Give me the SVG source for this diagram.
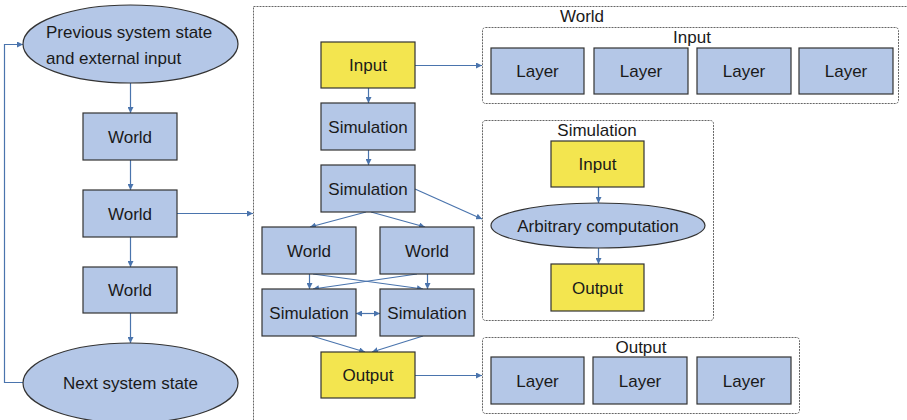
<svg xmlns="http://www.w3.org/2000/svg" width="907" height="420" viewBox="0 0 907 420">
<defs>
<style>
.box{fill:#b4c7e7;stroke:#333;stroke-width:1.2}
.yel{fill:#f3e54f;stroke:#333;stroke-width:1.2}
.frame{fill:none;stroke:#666;stroke-width:1;stroke-dasharray:2 1}
.t{font-family:"Liberation Sans",Arial,sans-serif;font-size:17px;fill:#1a1a1a;text-anchor:middle}
.tl{font-family:"Liberation Sans",Arial,sans-serif;font-size:17px;fill:#1a1a1a}
.c{fill:none;stroke:#4a74ad;stroke-width:1.2}
</style>
<marker id="ah" viewBox="0 0 10 10" refX="10" refY="5" markerWidth="6" markerHeight="6" markerUnits="userSpaceOnUse" orient="auto-start-reverse">
<path d="M0,0 L10,5 L0,10 z" fill="#4a74ad"/>
</marker>
</defs>
<rect width="907" height="420" fill="#fff"/>

<g id="frames">
<g id="world-frame"><rect class="frame" x="253.5" y="6.5" width="660" height="420"/><text class="t" x="582" y="22">World</text></g>
<g id="input-frame"><rect class="frame" x="482.5" y="27.5" width="416" height="76" rx="3"/><text class="t" x="692" y="43">Input</text></g>
<g id="simulation-frame"><rect class="frame" x="482.5" y="120.5" width="231" height="200" rx="3"/><text class="t" x="597" y="136">Simulation</text></g>
<g id="output-frame"><rect class="frame" x="482.5" y="337.5" width="317" height="76" rx="3"/><text class="t" x="641" y="353">Output</text></g>
</g>

<g id="connectors">
<path class="c" d="M130.5,83 V113" marker-end="url(#ah)"/>
<path class="c" d="M130.5,160 V190" marker-end="url(#ah)"/>
<path class="c" d="M130.5,237 V267" marker-end="url(#ah)"/>
<path class="c" d="M130.5,313 V343" marker-end="url(#ah)"/>
<path class="c" d="M23,382.5 H4.5 V44.5 H23" marker-end="url(#ah)"/>
<path class="c" d="M177,213.5 H253" marker-end="url(#ah)"/>
<path class="c" d="M368.5,88 V103" marker-end="url(#ah)"/>
<path class="c" d="M368.5,150 V165" marker-end="url(#ah)"/>
<path class="c" d="M366,212 L310,227" marker-end="url(#ah)"/>
<path class="c" d="M371,212 L425,227" marker-end="url(#ah)"/>
<path class="c" d="M415,189 L482,219" marker-end="url(#ah)"/>
<path class="c" d="M415,65.5 H482" marker-end="url(#ah)"/>
<path class="c" d="M309.5,274 V289" marker-end="url(#ah)"/>
<path class="c" d="M313,274 L423,289" marker-end="url(#ah)"/>
<path class="c" d="M427.5,274 V289" marker-end="url(#ah)"/>
<path class="c" d="M417,274 L313,289" marker-end="url(#ah)"/>
<path class="c" d="M356,313.5 H380" marker-start="url(#ah)" marker-end="url(#ah)"/>
<path class="c" d="M312,336 L365,352" marker-end="url(#ah)"/>
<path class="c" d="M423,336 L372,352" marker-end="url(#ah)"/>
<path class="c" d="M415,375.5 H482" marker-end="url(#ah)"/>
<path class="c" d="M598.5,187 V203" marker-end="url(#ah)"/>
<path class="c" d="M598.5,248 V264" marker-end="url(#ah)"/>
</g>

<g id="prev-state"><ellipse class="box" cx="130.5" cy="44" rx="107.5" ry="39"/><text class="tl" x="46" y="38">Previous system state</text><text class="tl" x="46" y="64">and external input</text></g>
<g id="world1"><rect class="box" x="83" y="113" width="94" height="47"/><text class="t" x="130" y="142.5">World</text></g>
<g id="world2"><rect class="box" x="83" y="190" width="94" height="47"/><text class="t" x="130" y="219.5">World</text></g>
<g id="world3"><rect class="box" x="83" y="267" width="94" height="46"/><text class="t" x="130" y="296">World</text></g>
<g id="next-state"><ellipse class="box" cx="130.5" cy="383" rx="107.5" ry="40"/><text class="t" x="130.5" y="389">Next system state</text></g>

<g id="w-input"><rect class="yel" x="321" y="42" width="94" height="46"/><text class="t" x="368" y="71">Input</text></g>
<g id="w-sim1"><rect class="box" x="321" y="103" width="94" height="47"/><text class="t" x="368" y="132.5">Simulation</text></g>
<g id="w-sim2"><rect class="box" x="321" y="165" width="94" height="47"/><text class="t" x="368" y="194.5">Simulation</text></g>
<g id="w-world-l"><rect class="box" x="262" y="227" width="94" height="47"/><text class="t" x="309" y="256.5">World</text></g>
<g id="w-world-r"><rect class="box" x="380" y="227" width="94" height="47"/><text class="t" x="427" y="256.5">World</text></g>
<g id="w-sim-l"><rect class="box" x="262" y="289" width="94" height="47"/><text class="t" x="309" y="318.5">Simulation</text></g>
<g id="w-sim-r"><rect class="box" x="380" y="289" width="94" height="47"/><text class="t" x="427" y="318.5">Simulation</text></g>
<g id="w-output"><rect class="yel" x="321" y="352" width="94" height="46"/><text class="t" x="368" y="381">Output</text></g>

<g id="in-layer1"><rect class="box" x="491" y="48" width="93" height="46"/><text class="t" x="537.5" y="77">Layer</text></g>
<g id="in-layer2"><rect class="box" x="594" y="48" width="94" height="46"/><text class="t" x="641" y="77">Layer</text></g>
<g id="in-layer3"><rect class="box" x="697" y="48" width="94" height="46"/><text class="t" x="744" y="77">Layer</text></g>
<g id="in-layer4"><rect class="box" x="799" y="48" width="94" height="46"/><text class="t" x="846" y="77">Layer</text></g>

<g id="s-input"><rect class="yel" x="551" y="141" width="93" height="46"/><text class="t" x="597.5" y="170">Input</text></g>
<g id="s-compute"><ellipse class="box" cx="598" cy="225.5" rx="107" ry="22.5"/><text class="t" x="598" y="231.5">Arbitrary computation</text></g>
<g id="s-output"><rect class="yel" x="551" y="264" width="93" height="47"/><text class="t" x="597.5" y="293.5">Output</text></g>

<g id="out-layer1"><rect class="box" x="491" y="357" width="93" height="47"/><text class="t" x="537.5" y="386.5">Layer</text></g>
<g id="out-layer2"><rect class="box" x="593" y="357" width="94" height="47"/><text class="t" x="640" y="386.5">Layer</text></g>
<g id="out-layer3"><rect class="box" x="697" y="357" width="94" height="47"/><text class="t" x="744" y="386.5">Layer</text></g>
</svg>
